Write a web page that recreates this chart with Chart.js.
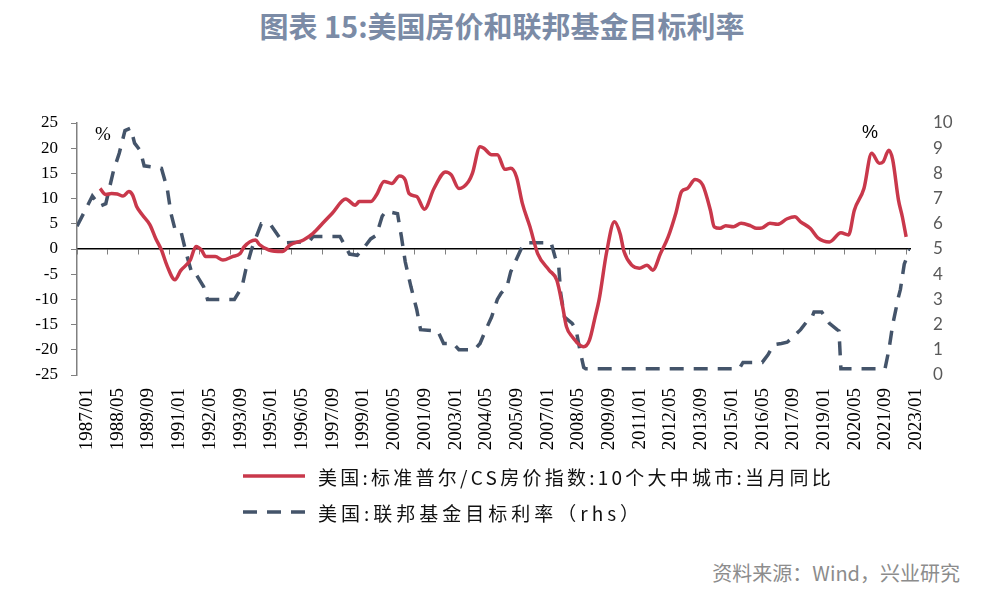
<!DOCTYPE html>
<html>
<head>
<meta charset="utf-8">
<script src="https://cdn.jsdelivr.net/npm/chart.js@4.4.0/dist/chart.umd.min.js"></script>
<style>
  body { margin: 0; background: #fff; }
  #page { position: relative; width: 982px; height: 595px; overflow: hidden; font-family: 'Noto Sans CJK SC', sans-serif; }
  #title { position: absolute; left: 11px; top: 10px; width: 982px; text-align: center; font-size: 29px; font-weight: 700; line-height: 30px; color: #7b8ba6; }
  #chartBox { position: absolute; left: 0; top: 60px; width: 982px; height: 400px; }
  .unit { position: absolute; line-height: 20px; color: #000; }
  #legend { position: absolute; left: 243px; top: 458px; font-size: 19px; color: #111; }
  .row { height: 36px; display: flex; align-items: center; }
  .row svg { margin-right: 13px; }
  #source { position: absolute; right: 22px; top: 560px; font-size: 20px; line-height: 26px; color: #8c8c8c; }
</style>
</head>
<body>
<div id="page">
  <div id="title">图表 15:美国房价和联邦基金目标利率</div>
  <div id="chartBox"><canvas id="chart" width="982" height="400"></canvas></div>
  <span class="unit" style="left:95px; top:123px; font: 19px 'Liberation Serif', serif;">%</span>
  <span class="unit" style="left:862px; top:122px; font: 18px 'Liberation Sans Narrow', 'Liberation Sans', sans-serif;">%</span>
  <div id="legend"></div>
  <div id="source">资料来源：Wind，兴业研究</div>
</div>
<script>
// 美国:标准普尔/CS房价指数:10个大中城市:当月同比 (左轴, %)
const hpiDates = ['1988/01','1988/04','1988/07','1988/10','1989/01','1989/04','1989/06','1989/08','1989/11',
  '1990/03','1990/06','1990/09','1990/12','1991/04','1991/07','1991/12','1992/03','1992/06','1992/08',
  '1993/01','1993/05','1993/10','1994/02','1994/04','1994/10','1994/12','1995/05','1995/12','1996/04',
  '1996/11','1997/04','1997/09','1998/02','1998/09','1999/02','1999/04','1999/10','2000/01','2000/05',
  '2000/09','2001/01','2001/04','2001/06','2001/10','2002/02','2002/07','2003/01','2003/04','2003/08',
  '2004/01','2004/03','2004/07','2004/09','2005/01','2005/04','2005/08','2005/11','2006/02','2006/05',
  '2006/09','2007/01','2007/07','2007/11','2008/02','2008/04','2008/07','2009/01','2009/04','2009/07',
  '2009/09','2010/01','2010/05','2010/08','2010/10','2011/02','2011/06','2011/10','2012/01','2012/05',
  '2012/09','2013/01','2013/04','2013/07','2013/11','2014/03','2014/07','2014/09','2014/12','2015/03',
  '2015/07','2015/11','2016/04','2016/07','2016/10','2017/02','2017/06','2017/11','2018/03','2018/06',
  '2018/11','2019/03','2019/09','2020/03','2020/07','2020/10','2021/03','2021/07','2021/11','2022/01',
  '2022/04','2022/06','2022/09','2022/11','2023/01'];
const hpiValues = [12.0, 10.8, 11.0, 10.9, 10.5, 11.4, 10.7, 8.5, 6.8,
  4.8, 2.1, -0.2, -3.4, -6.1, -4.3, -2.2, 0.5, -0.3, -1.5,
  -1.5, -2.2, -1.5, -0.9, 0.4, 1.8, 0.9, -0.2, -0.5, 0.8,
  1.8, 3.1, 5.1, 7.1, 9.9, 8.7, 9.4, 9.4, 10.7, 13.4,
  13.0, 14.5, 13.7, 11.0, 10.4, 7.9, 12.0, 15.3, 14.7, 12.0,
  13.4, 15.0, 20.3, 20.0, 18.7, 18.7, 15.8, 16.0, 14.3, 9.1,
  4.4, -0.9, -4.2, -6.2, -11.4, -15.4, -17.4, -19.4, -18.1, -13.4,
  -10.1, -0.5, 5.4, 3.0, -0.5, -3.2, -3.8, -3.2, -4.2, -0.9,
  2.4, 7.1, 11.4, 12.0, 13.8, 12.7, 7.7, 4.4, 4.1, 4.6,
  4.4, 5.1, 4.6, 4.1, 4.2, 5.1, 4.9, 6.0, 6.4, 5.4,
  4.1, 2.2, 1.4, 3.2, 2.8, 7.7, 12.0, 19.0, 17.0, 17.3,
  19.6, 17.7, 9.7, 6.4, 2.4];

// 美国:联邦基金目标利率 (右轴, %)
const fedDates = ['1987/01','1987/09','1988/01','1988/04','1988/08','1988/11','1989/02','1989/05','1989/07',
  '1989/10','1989/12','1990/09','1990/12','1991/02','1991/04','1991/07','1991/10','1992/01','1992/03',
  '1992/07','1992/09','1993/11','1994/03','1994/05','1994/08','1994/11','1995/01','1995/06','1995/11',
  '1996/02','1997/02','1997/04','1998/06','1998/11','1999/03','1999/06','1999/10','2000/01','2000/04',
  '2000/06','2000/12','2001/02','2001/04','2001/07','2001/10','2001/12','2002/09','2002/12','2003/05',
  '2003/08','2004/04','2004/07','2004/10','2005/01','2005/04','2005/06','2005/09','2005/11','2006/02',
  '2006/05','2006/07','2007/08','2007/10','2007/12','2008/01','2008/03','2008/07','2008/09','2008/11',
  '2009/01','2009/02','2015/10','2015/12','2016/10','2017/01','2017/04','2017/08','2017/11','2018/02',
  '2018/06','2018/10','2018/12','2019/01','2019/05','2019/09','2020/01','2020/02','2020/03','2022/02',
  '2022/04','2022/06','2022/09','2022/10','2022/12','2023/03'];
const fedValues = [5.9, 7.1, 6.7, 6.8, 8.1, 8.8, 9.7, 9.8, 9.2,
  8.9, 8.3, 8.2, 7.4, 6.4, 5.8, 5.75, 4.8, 4.0, 4.0,
  3.5, 3.0, 3.0, 3.5, 4.2, 5.0, 5.6, 6.0, 5.95, 5.4,
  5.25, 5.3, 5.5, 5.5, 4.8, 4.75, 5.0, 5.4, 5.55, 6.3,
  6.5, 6.4, 5.5, 4.5, 3.5, 2.6, 1.8, 1.75, 1.25, 1.25,
  1.0, 1.0, 1.25, 1.8, 2.3, 3.0, 3.25, 3.5, 4.1, 4.6,
  5.1, 5.25, 5.25, 4.7, 4.3, 3.25, 2.3, 2.05, 1.8, 1.0,
  0.3, 0.25, 0.25, 0.5, 0.5, 0.8, 1.2, 1.25, 1.3, 1.5,
  1.8, 2.2, 2.3, 2.5, 2.5, 2.05, 1.8, 1.75, 0.25, 0.25,
  1.0, 2.0, 3.1, 3.4, 4.4, 5.0];

const hpiName = '美国:标准普尔/CS房价指数:10个大中城市:当月同比';
const fedName = '美国:联邦基金目标利率（rhs）';
const leftTicks = { min: -25, max: 25, step: 5 };
const rightTicks = { min: 0, max: 10, step: 1 };
const firstMonth = '1987/01';
const lastMonth = '2023/03';
const labelEvery = 16;

const red = '#c9384b';
const navy = '#44546a';

// month index counted from firstMonth
const baseYear = Number(firstMonth.split('/')[0]);
function toMonth(s) {
  const [y, m] = s.split('/').map(Number);
  return (y - baseYear) * 12 + (m - 1);
}
function monthLabel(v) {
  const y = baseYear + Math.floor(v / 12);
  const m = v % 12 + 1;
  return y + '/' + String(m).padStart(2, '0');
}

const xMax = toMonth(lastMonth);

const ctx = document.getElementById('chart').getContext('2d');
const chart = new Chart(ctx, {
  type: 'line',
  data: {
    datasets: [
      {
        label: hpiName,
        data: hpiDates.map((d, i) => ({ x: toMonth(d), y: hpiValues[i] })),
        borderColor: red,
        borderWidth: 3.5,
        borderJoinStyle: 'round',
        pointRadius: 0,
        cubicInterpolationMode: 'monotone',
        xAxisID: 'x',
        yAxisID: 'y'
      },
      {
        label: fedName,
        data: fedDates.map((d, i) => ({ x: toMonth(d), y: fedValues[i] })),
        borderColor: navy,
        borderWidth: 3.5,
        borderDash: [14, 10],
        pointRadius: 0,
        xAxisID: 'x',
        yAxisID: 'y1'
      }
    ]
  },
  options: {
    responsive: false,
    animation: false,
    devicePixelRatio: 1,
    layout: { padding: { top: 63, left: 0, right: 0, bottom: 0 } },
    plugins: { legend: { display: false }, tooltip: { enabled: false } },
    scales: {
      x: {
        type: 'linear',
        position: 'bottom',
        min: 0,
        max: xMax,
        grid: { display: false, drawTicks: false },
        border: { display: false },
        ticks: {
          stepSize: labelEvery,
          includeBounds: false,
          autoSkip: false,
          maxRotation: 90,
          minRotation: 90,
          labelOffset: 10,
          padding: 13,
          color: '#000',
          font: { family: "'Liberation Serif', serif", size: 19 },
          callback: v => monthLabel(v)
        },
        afterFit: s => { s.height = 85; }
      },
      // zero line with its tick marks
      zero: {
        type: 'linear',
        axis: 'x',
        position: { y: 0 },
        min: 0,
        max: xMax,
        grid: { drawOnChartArea: false, drawTicks: true, tickLength: 5, color: '#808080', lineWidth: 1 },
        border: { color: '#000', width: 1.5 },
        ticks: { stepSize: labelEvery, includeBounds: false, display: false }
      },
      y: {
        position: 'left',
        min: leftTicks.min,
        max: leftTicks.max,
        grid: { drawOnChartArea: false, drawTicks: true, tickLength: 6, color: '#808080' },
        border: { color: '#808080', width: 1.5 },
        ticks: {
          stepSize: leftTicks.step,
          padding: 13,
          color: '#000',
          font: { family: "'Liberation Serif', serif", size: 17 }
        },
        afterFit: s => { s.width = 77; }
      },
      y1: {
        position: 'right',
        min: rightTicks.min,
        max: rightTicks.max,
        grid: { display: false, drawTicks: false },
        border: { display: false },
        ticks: {
          stepSize: rightTicks.step,
          padding: 23,
          color: '#595959',
          font: { family: "Lato, 'Open Sans', sans-serif", size: 17 }
        },
        afterFit: s => { s.width = 72; }
      }
    }
  }
});

// legend built from the chart's datasets
const legendSpacing = ['3.25px', '4px'];
const legend = document.getElementById('legend');
chart.data.datasets.forEach((ds, i) => {
  const row = document.createElement('div');
  row.className = 'row';
  const dash = ds.borderDash ? ` stroke-dasharray="${ds.borderDash.join(' ')}"` : '';
  row.innerHTML = `<svg width="62" height="8"><line x1="0" y1="4" x2="62" y2="4" stroke="${ds.borderColor}" stroke-width="3.5"${dash}/></svg><span style="letter-spacing:${legendSpacing[i]}">${ds.label}</span>`;
  legend.appendChild(row);
});
</script>
</body>
</html>
